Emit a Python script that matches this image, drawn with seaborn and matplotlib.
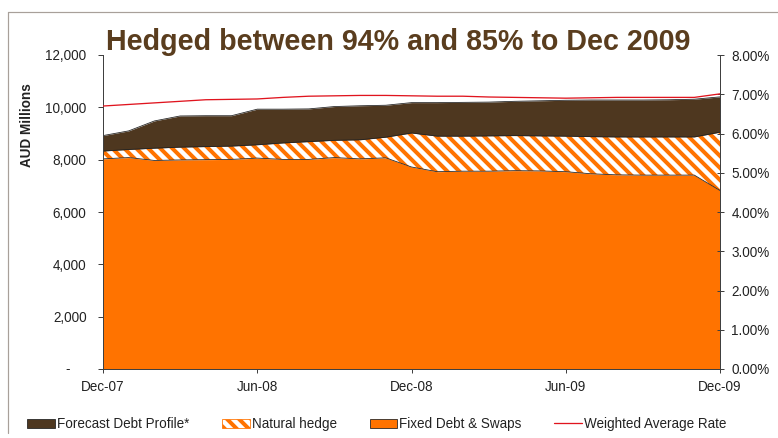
import numpy as np
import matplotlib
matplotlib.use("Agg")
import matplotlib.pyplot as plt
import matplotlib.transforms as mtransforms
import seaborn as sns
from matplotlib.lines import Line2D
from matplotlib.patches import Patch
from matplotlib.ticker import FuncFormatter

# ---------------- data ----------------
months = ["Dec-07", "Jan-08", "Feb-08", "Mar-08", "Apr-08", "May-08", "Jun-08",
          "Jul-08", "Aug-08", "Sep-08", "Oct-08", "Nov-08", "Dec-08",
          "Jan-09", "Feb-09", "Mar-09", "Apr-09", "May-09", "Jun-09",
          "Jul-09", "Aug-09", "Sep-09", "Oct-09", "Nov-09", "Dec-09"]
tick_labels = ["Dec-07", "Jun-08", "Dec-08", "Jun-09", "Dec-09"]

# AUD millions
forecast_debt = [8920, 9100, 9480, 9670, 9680, 9680, 9930, 9930, 9940, 10030,
                 10060, 10080, 10180, 10180, 10190, 10200, 10230, 10250, 10270,
                 10280, 10280, 10280, 10290, 10310, 10400]
natural_hedge = [300, 310, 470, 490, 500, 510, 510, 630, 680, 660, 730, 790,
                 1300, 1360, 1340, 1350, 1340, 1340, 1360, 1420, 1450, 1460,
                 1460, 1460, 2230]
fixed_debt = [8030, 8080, 7970, 7990, 8000, 8010, 8060, 8010, 8010, 8080, 8030,
              8070, 7720, 7540, 7560, 7560, 7580, 7570, 7540, 7460, 7420, 7410,
              7410, 7410, 6820]
# weighted average rate, %
weighted_rate = [6.70, 6.74, 6.78, 6.82, 6.86, 6.87, 6.88, 6.92, 6.95, 6.96,
                 6.97, 6.97, 6.96, 6.95, 6.95, 6.93, 6.92, 6.91, 6.90, 6.91,
                 6.92, 6.92, 6.92, 6.92, 7.01]

series_labels = ["Forecast Debt Profile*", "Natural hedge",
                 "Fixed Debt & Swaps", "Weighted Average Rate"]
title = "Hedged between 94% and 85% to Dec 2009"

# ---------------- style ----------------
ORANGE = "#FF7300"
BROWN = "#4E371F"
RED = "#E0141E"
TITLE_C = "#5A3D1E"
DARK = "#222222"
AXC = "#404040"

sns.set_theme(style="ticks")
plt.rcParams["font.family"] = ["Liberation Sans", "DejaVu Sans"]
plt.rcParams["hatch.linewidth"] = 4.0

DPI = 72
W, H = 778, 438
fig = plt.figure(figsize=(W / DPI, H / DPI), dpi=DPI)
fig.patch.set_facecolor("white")

L, R, T, B = 103, 720, 55, 369
ax = fig.add_axes([L / W, 1 - B / H, (R - L) / W, (B - T) / H])
ax.set_facecolor("white")

x = np.arange(len(months))
fixed = np.array(fixed_debt, dtype=float)
hedge_top = fixed + np.array(natural_hedge, dtype=float)
total = np.array(forecast_debt, dtype=float)

HATCH = "\\\\"
ax.fill_between(x, 0, fixed, color=ORANGE, lw=0, zorder=1)
ax.fill_between(x, fixed, hedge_top, facecolor="white", edgecolor=ORANGE,
                hatch=HATCH, lw=0, zorder=1)
ax.fill_between(x, hedge_top, total, color=BROWN, lw=0, zorder=1)
for top in (fixed, hedge_top, total):
    sns.lineplot(x=x, y=top, ax=ax, color=DARK, lw=0.8, zorder=2)

ax.set_xlim(0, len(months) - 1)
ax.set_ylim(0, 12000)
ax.set_yticks(np.arange(0, 12001, 2000))
ax.yaxis.set_major_formatter(FuncFormatter(lambda v, p: "" if v == 0 else f"{v:,.0f}"))
tick_pos = [months.index(m) for m in tick_labels]
ax.set_xticks(tick_pos)
ax.set_xticklabels(tick_labels)
ax.set_xlabel("")
ax.set_ylabel("")

ax.tick_params(axis="y", direction="out", length=5, width=1, color=AXC,
               labelsize=13.5, labelcolor=DARK, pad=11.5)
ax.tick_params(axis="x", direction="inout", length=8, width=1, color=AXC,
               labelsize=13.5, labelcolor=DARK, pad=7)
for s in ("left", "bottom", "right"):
    ax.spines[s].set_color(AXC)
    ax.spines[s].set_linewidth(1)
ax.spines["top"].set_visible(False)

# zero label on left axis shown as a dash
trans = mtransforms.blended_transform_factory(ax.transAxes, ax.transData)
ax.text((68 - L) / (R - L), 0, "-", transform=trans, ha="center", va="center",
        fontsize=13.5, color=DARK)

ax2 = ax.twinx()
sns.lineplot(x=x, y=weighted_rate, ax=ax2, color=RED, lw=1.3)
ax2.set_ylim(0, 8)
ax2.set_yticks(np.arange(0, 9, 1))
ax2.yaxis.set_major_formatter(FuncFormatter(lambda v, p: f"{v:.2f}%"))
ax2.set_ylabel("")
ax2.tick_params(axis="y", direction="inout", length=7, width=1, color=AXC,
                labelsize=13.5, labelcolor=DARK, pad=8)
for s in ("top", "left", "bottom"):
    ax2.spines[s].set_visible(False)
ax2.spines["right"].set_color(AXC)
ax2.spines["right"].set_linewidth(1)

# title and axis label
fig.text(398 / W, 1 - 50 / H, title, ha="center", va="baseline",
         fontsize=28.6, fontweight="bold", color=TITLE_C)
fig.text(27 / W, 1 - 125 / H, "AUD Millions", rotation=90, ha="center",
         va="center", fontsize=13.5, fontweight="bold", color=DARK)

# legend
handles = [
    Patch(facecolor=BROWN, edgecolor=DARK, lw=0.8),
    Patch(facecolor="white", edgecolor=ORANGE, hatch=HATCH, lw=0.8),
    Patch(facecolor=ORANGE, edgecolor=DARK, lw=0.8),
    Line2D([0], [0], color=RED, lw=1.3),
]
fig.legend(handles, series_labels, loc="center", bbox_to_anchor=(377 / W, 1 - 424 / H),
           ncol=4, frameon=False, fontsize=13.5, handlelength=2.07,
           handleheight=0.6, handletextpad=0.15, columnspacing=2.4,
           borderpad=0, borderaxespad=0, labelcolor=DARK)

# frame border (top and left)
bc = "#A8A09A"
fig.add_artist(Line2D([8 / W, 8 / W], [1 - 433 / H, 1 - 12 / H],
                      transform=fig.transFigure, color=bc, lw=1.2))
fig.add_artist(Line2D([8 / W, 1.0], [1 - 12 / H, 1 - 12 / H],
                      transform=fig.transFigure, color=bc, lw=1.2))

fig.savefig("out.png", dpi=DPI, facecolor="white")
